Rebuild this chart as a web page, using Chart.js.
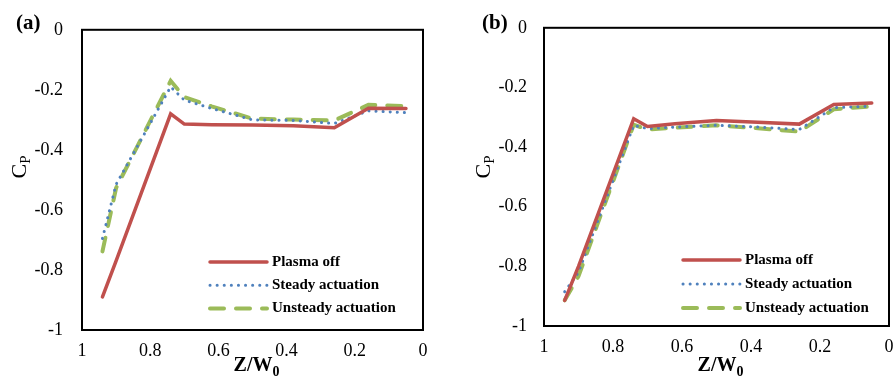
<!DOCTYPE html>
<html>
<head>
<meta charset="utf-8">
<script src="https://cdn.jsdelivr.net/npm/chart.js@4.4.0/dist/chart.umd.min.js"></script>
<style>
  body { margin: 0; background: #fff; }
  .panel { position: absolute; top: 0; height: 376px; overflow: hidden; }
  #panelA { left: 0; width: 450px; }
  #panelB { left: 450px; width: 443px; }
</style>
</head>
<body>
<div class="panel" id="panelA"><canvas id="chartA" width="450" height="376"></canvas></div>
<div class="panel" id="panelB"><canvas id="chartB" width="460" height="376"></canvas></div>
<script>
// spanwise stations Z/W0
const zPos = [0.94, 0.90, 0.74, 0.70, 0.62, 0.50, 0.38, 0.26, 0.16, 0.05];

// (a)
const offA      = [-0.89, -0.77, -0.28, -0.314, -0.316, -0.317, -0.320, -0.326, -0.261, -0.262];
const steadyA   = [-0.695, -0.515, -0.19, -0.234, -0.262, -0.300, -0.302, -0.312, -0.270, -0.276];
const unsteadyA = [-0.738, -0.527, -0.17, -0.224, -0.255, -0.296, -0.299, -0.302, -0.250, -0.254];

// (b)
const offB      = [-0.914, -0.80, -0.305, -0.331, -0.322, -0.311, -0.317, -0.323, -0.257, -0.252];
const steadyB   = [-0.885, -0.82, -0.327, -0.338, -0.333, -0.327, -0.333, -0.341, -0.268, -0.263];
const unsteadyB = [-0.914, -0.833, -0.325, -0.341, -0.335, -0.327, -0.337, -0.348, -0.273, -0.264];

const seriesNames = ['Plasma off', 'Steady actuation', 'Unsteady actuation'];
const xTicks = [1, 0.8, 0.6, 0.4, 0.2, 0];
const yTicks = [0, -0.2, -0.4, -0.6, -0.8, -1];

const SERIF = '"Liberation Serif", "Times New Roman", serif';

function toPoints(vals) {
    return vals.map((v, i) => ({x: zPos[i], y: v}));
}

function fmt(v) {
    return String(Math.round(v * 10) / 10);
}

const frameAndText = {
    id: 'frameAndText',
    afterDraw(chart, args, opts) {
        const ctx = chart.ctx;
        const a = chart.chartArea;
        ctx.save();
        // plot frame
        ctx.strokeStyle = '#000';
        ctx.lineWidth = 2;
        ctx.strokeRect(a.left, a.top, a.right - a.left, a.bottom - a.top);

        // legend inside plot
        const lg = opts.legend;
        chart.data.datasets.forEach((ds, i) => {
            const y = lg.y + i * lg.gap;
            ctx.beginPath();
            ctx.strokeStyle = ds.borderColor;
            ctx.lineWidth = ds.borderWidth;
            ctx.lineCap = ds.borderCapStyle || 'butt';
            ctx.setLineDash(ds.borderDash || []);
            ctx.moveTo(lg.x1, y);
            ctx.lineTo(lg.x2, y);
            ctx.stroke();
            ctx.setLineDash([]);
            ctx.fillStyle = '#000';
            ctx.font = 'bold 15px ' + SERIF;
            ctx.textBaseline = 'middle';
            ctx.textAlign = 'left';
            ctx.fillText(ds.label, lg.tx, y);
        });

        // panel label
        ctx.fillStyle = '#000';
        ctx.font = 'bold 21px ' + SERIF;
        ctx.textAlign = 'left';
        ctx.textBaseline = 'middle';
        ctx.fillText(opts.tag, opts.tagX, 24);

        // x title Z/W0
        const cx = (a.left + a.right) / 2;
        ctx.font = 'bold 20px ' + SERIF;
        const w1 = ctx.measureText('Z/W').width;
        ctx.font = 'bold 14px ' + SERIF;
        const w2 = ctx.measureText('0').width;
        let x0 = cx - (w1 + w2) / 2 + 4;
        ctx.font = 'bold 20px ' + SERIF;
        ctx.fillText('Z/W', x0, 366);
        ctx.font = 'bold 14px ' + SERIF;
        ctx.fillText('0', x0 + w1, 372);

        // y title Cp
        ctx.translate(opts.yTitleX, 167);
        ctx.rotate(-Math.PI / 2);
        ctx.font = '22px ' + SERIF;
        const c1 = ctx.measureText('C').width;
        ctx.font = '15px ' + SERIF;
        const c2 = ctx.measureText('P').width;
        const sx = -(c1 + c2) / 2;
        ctx.font = '22px ' + SERIF;
        ctx.fillText('C', sx, 0);
        ctx.font = '15px ' + SERIF;
        ctx.fillText('P', sx + c1, 6);
        ctx.restore();
    }
};

function makePanel(id, off, steady, unsteady, cfg) {
    const ctx = document.getElementById(id).getContext('2d');
    return new Chart(ctx, {
        type: 'line',
        data: {
            datasets: [
                {
                    label: seriesNames[0],
                    data: toPoints(off),
                    borderColor: '#C0504D',
                    borderWidth: 3.5,
                    borderCapStyle: 'round',
                    pointRadius: 0,
                    tension: 0
                },
                {
                    label: seriesNames[1],
                    data: toPoints(steady),
                    borderColor: '#4F81BD',
                    borderWidth: 3,
                    borderDash: [0.1, 7],
                    borderCapStyle: 'round',
                    pointRadius: 0,
                    tension: 0
                },
                {
                    label: seriesNames[2],
                    data: toPoints(unsteady),
                    borderColor: '#9BBB59',
                    borderWidth: 4,
                    borderDash: [14, 12],
                    borderCapStyle: 'round',
                    pointRadius: 0,
                    tension: 0
                }
            ]
        },
        options: {
            responsive: false,
            animation: false,
            layout: { padding: { top: 13, right: cfg.padRight, left: 0, bottom: 0 } },
            scales: {
                x: {
                    type: 'linear',
                    reverse: true,
                    min: 0,
                    max: 1,
                    afterBuildTicks: s => { s.ticks = xTicks.map(v => ({value: v})); },
                    afterFit: s => { s.height = cfg.xHeight; },
                    grid: { display: false, drawTicks: false },
                    border: { display: false },
                    ticks: {
                        padding: 10,
                        color: '#000',
                        font: { family: SERIF, size: 18 },
                        maxRotation: 0,
                        callback: v => fmt(v)
                    }
                },
                y: {
                    type: 'linear',
                    min: -1,
                    max: 0,
                    afterBuildTicks: s => { s.ticks = yTicks.map(v => ({value: v})); },
                    afterFit: s => { s.width = cfg.yWidth; },
                    grid: { display: false, drawTicks: false },
                    border: { display: false },
                    ticks: {
                        padding: cfg.yPad,
                        color: '#000',
                        font: { family: SERIF, size: 18 },
                        callback: v => fmt(v)
                    }
                }
            },
            plugins: {
                legend: { display: false },
                tooltip: { enabled: false },
                frameAndText: cfg.text
            }
        },
        plugins: [frameAndText]
    });
}

makePanel('chartA', offA, steadyA, unsteadyA, {
    padRight: 27, xHeight: 46, yWidth: 82, yPad: 19,
    text: {
        tag: '(a)', tagX: 16, yTitleX: 20,
        legend: { x1: 210, x2: 267, tx: 272, y: 262, gap: 23.3 }
    }
});

makePanel('chartB', offB, steadyB, unsteadyB, {
    padRight: 21, xHeight: 50, yWidth: 94, yPad: 17,
    text: {
        tag: '(b)', tagX: 32, yTitleX: 34,
        legend: { x1: 233, x2: 290, tx: 295, y: 260, gap: 24 }
    }
});
</script>
</body>
</html>
